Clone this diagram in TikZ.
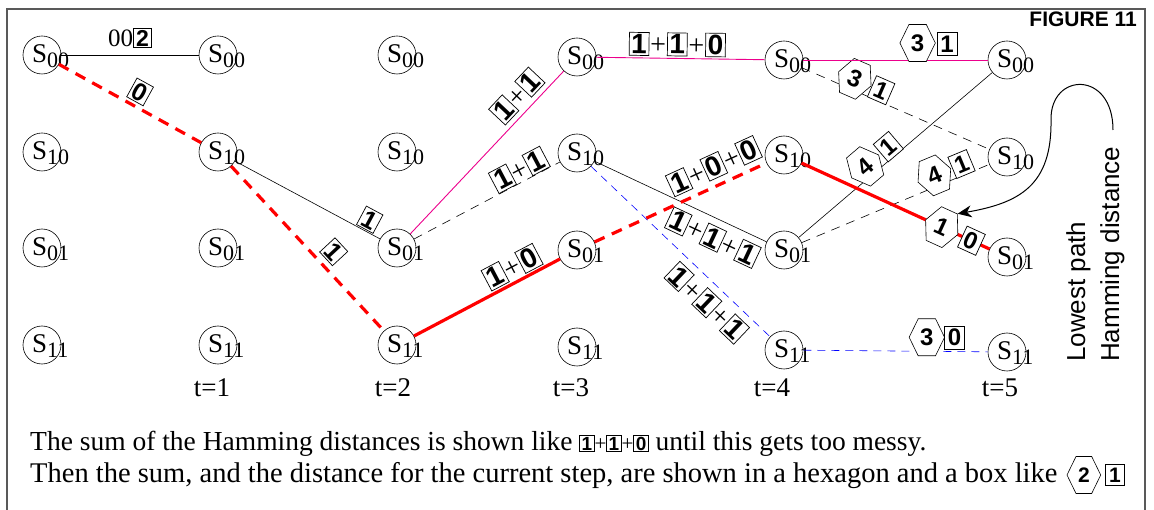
\documentclass[tikz,border=0pt]{standalone}
\usepackage{fontspec}
\setmainfont{Liberation Serif}
\setsansfont{Liberation Sans}
\usetikzlibrary{shapes.symbols,arrows.meta,positioning}

\newcommand\lbf{\sffamily\bfseries\fontsize{28}{28}\selectfont}
\newcommand\mbf{\sffamily\bfseries\fontsize{25}{25}\selectfont}
\newcommand\bx[1]{{\setlength\fboxsep{1.5pt}\setlength\fboxrule{0.7pt}\fcolorbox{black}{white}{\makebox[16pt]{\lbf #1}}}}
\newcommand\mbx[1]{{\setlength\fboxsep{1.5pt}\setlength\fboxrule{0.7pt}\fcolorbox{black}{white}{\makebox[15pt]{\mbf #1}}}}
\newcommand\pl{{\rmfamily\fontsize{28}{28}\selectfont\kern1pt+\kern1pt}}
\newcommand\sbx[1]{{\setlength\fboxsep{1pt}\setlength\fboxrule{0.6pt}\fcolorbox{black}{white}{\makebox[12pt]{\sffamily\bfseries\fontsize{19}{19}\selectfont #1}}}}
\newcommand\spl{{\fontsize{21}{21}\selectfont+}}
\newcommand\stt[4]{%
  \node[stc] (#1) at (#2,#3) {};
  \node[sttxt] (#1t) at ([xshift=-10pt,yshift=-8pt]#1.center) {S\raisebox{-5pt}{\fontsize{22}{22}\selectfont #4}};}

\tikzset{
  stc/.style={circle, draw, line width=0.6pt, minimum size=38pt, inner sep=0pt},
  sttxt/.style={font=\fontsize{27}{27}\selectfont, inner sep=0pt, anchor=base west},
  blk/.style={black, line width=0.6pt},
  tdash/.style={black, line width=0.6pt, dash pattern=on 9pt off 7pt},
  mag/.style={magenta, line width=0.9pt},
  bdash/.style={blue, line width=0.6pt, dash pattern=on 8pt off 6pt},
  rdash/.style={red, line width=3.2pt, dash pattern=on 11pt off 8pt},
  rsolid/.style={red, line width=3.2pt},
  lab/.style={inner sep=0pt, sloped, text=black},
  hexs/.style={shape=signal, signal to=east and west, signal pointer angle=128, draw=black, solid, fill=white, text=black, line width=0.6pt, minimum height=37pt, inner xsep=2pt, inner ysep=0pt, font=\sffamily\bfseries\fontsize{24}{24}\selectfont},
  bxs/.style={draw=black, solid, fill=white, text=black, line width=0.7pt, inner sep=0pt, minimum width=20pt, minimum height=23pt, font=\sffamily\bfseries\fontsize{24}{24}\selectfont},
  tlab/.style={font=\fontsize{27}{27}\selectfont, anchor=base, inner sep=0pt},
  btxt/.style={font=\fontsize{28.5}{28.5}\selectfont, anchor=base west, inner sep=0pt},
}

\begin{document}
\begin{tikzpicture}[x=1pt,y=-1pt]
\useasboundingbox (0,0) rectangle (1154,510);
\draw[line width=1.5pt, black!65] (7,515) -- (7,9) -- (1145,9) -- (1145,515);
\node[anchor=north east, font=\sffamily\bfseries\fontsize{21}{21}\selectfont, inner sep=0pt] (fig) at (1137,12) {FIGURE 11};

% states
\stt{c0r0}{42}{55}{00}   \stt{c0r1}{42}{152}{10}  \stt{c0r2}{42}{248}{01}  \stt{c0r3}{42}{345}{11}
\stt{c1r0}{218}{55}{00}  \stt{c1r1}{218}{152}{10} \stt{c1r2}{218}{248}{01} \stt{c1r3}{218}{345}{11}
\stt{c2r0}{397}{55}{00}  \stt{c2r1}{397}{152}{10} \stt{c2r2}{397}{248}{01} \stt{c2r3}{397}{345}{11}
\stt{c3r0}{577}{57}{00}  \stt{c3r1}{577}{153}{10} \stt{c3r2}{577}{250}{01} \stt{c3r3}{577}{347}{11}
\stt{c4r0}{784}{60}{00}  \stt{c4r1}{784}{155}{10} \stt{c4r2}{784}{250}{01} \stt{c4r3}{784}{350}{11}
\stt{c5r0}{1007}{60}{00} \stt{c5r1}{1007}{157}{10} \stt{c5r2}{1007}{257}{01} \stt{c5r3}{1007}{352}{11}

% time labels
\node[tlab] (t1) at (212,397) {t=1};
\node[tlab] (t2) at (393,397) {t=2};
\node[tlab] (t3) at (571,397) {t=3};
\node[tlab] (t4) at (772,397) {t=4};
\node[tlab] (t5) at (1000,397) {t=5};

% edges
\draw[blk] (c0r0) -- node[lab,pos=0.5,yshift=17pt]{\fontsize{25}{25}\selectfont 00{\setlength\fboxsep{1.2pt}\setlength\fboxrule{0.7pt}\fcolorbox{black}{white}{\makebox[15pt]{\sffamily\bfseries\fontsize{23}{23}\selectfont 2}}}} (c1r0);
\draw[rdash] (c0r0) -- node[lab,pos=0.52,yshift=15pt]{\mbx{0}} (c1r1);
\draw[blk] (c1r1) -- node[lab,pos=0.89,yshift=12pt]{\mbx{1}} (c2r2);
\draw[rdash] (c1r1) -- node[lab,pos=0.59,yshift=17pt]{\mbx{1}} (c2r3);
\draw[mag] (c2r2) -- node[lab,pos=0.775,yshift=17pt]{\bx{1}\pl\bx{1}} (c3r0);
\draw[tdash] (c2r2) -- node[lab,pos=0.76,yshift=12pt]{\bx{1}\pl\bx{1}} (c3r1);
\draw[rsolid] (c2r3) -- node[lab,pos=0.72,yshift=15pt]{\bx{1}\pl\bx{0}} (c3r2);
\draw[mag] (c3r0) -- node[lab,pos=0.48,yshift=14pt]{\bx{1}\pl\bx{1}\pl\bx{0}} (c4r0);
\draw[blk] (c3r1) -- node[lab,pos=0.735,yshift=-19pt]{\bx{1}\pl\bx{1}\pl\bx{1}} (c4r2);
\draw[bdash] (c3r1) -- node[lab,pos=0.72,yshift=-19pt]{\bx{1}\pl\bx{1}\pl\bx{1}} (c4r3);
\draw[rdash] (c3r2) -- node[lab,pos=0.74,yshift=19pt]{\bx{1}\pl\bx{0}\pl\bx{0}} (c4r1);
\draw[tdash] (c4r0) -- node[hexs,sloped,pos=0.26,yshift=11pt]{3} node[bxs,sloped,pos=0.40,yshift=11pt]{1} (c5r1);
\draw[mag] (c4r0) -- node[hexs,pos=0.62,yshift=17pt]{3} node[bxs,pos=0.78,yshift=16pt]{1} (c5r0);
\draw[blk] (c4r2) -- node[hexs,sloped,pos=0.38,yshift=11pt]{4} node[bxs,sloped,pos=0.50,yshift=11pt]{1} (c5r0);
\draw[tdash] (c4r2) -- node[hexs,sloped,pos=0.73,yshift=11pt]{4} node[bxs,sloped,pos=0.875,yshift=11pt]{1} (c5r1);
\draw[rsolid] (c4r1) -- node[hexs,sloped,pos=0.746] (h16) {1} node[bxs,sloped,pos=0.904]{0} (c5r2);
\draw[bdash] (c4r3) -- node[hexs,pos=0.67,yshift=14pt]{3} node[bxs,pos=0.82,yshift=14pt]{0} (c5r3);

% side note and arrow
\node[rotate=90, anchor=north west, align=left, font=\sffamily\fontsize{26}{34}\selectfont, inner sep=0pt] (note) at (1066,362) {Lowest path\\Hamming distance};
\coordinate (ast) at (1113,130);
\draw[-{Stealth[length=14pt,width=12pt]}, line width=1pt] (ast) .. controls (1113,70) and (1050,72) .. (1051,120) .. controls (1052,185) and (1020,203) .. (h16.north east);

% bottom text
\node[btxt, font=\fontsize{27.5}{27.5}\selectfont] (l1) at (30,450) {The sum of the Hamming distances is shown like \sbx{1}\spl\sbx{1}\spl\sbx{0} until this gets too messy.};
\node[btxt] (l2) at (30,482) {Then the sum, and the distance for the current step, are shown in a hexagon and a box like};
\node[hexs, anchor=west, minimum height=37pt, font=\sffamily\bfseries\fontsize{21}{21}\selectfont] (hx) at ([xshift=9pt,yshift=7pt]l2.base east) {2};
\node[bxs, anchor=west, minimum width=19pt, minimum height=21pt, font=\sffamily\bfseries\fontsize{21}{21}\selectfont] (bx) at ([xshift=4pt]hx.east) {1};
\end{tikzpicture}
\end{document}
